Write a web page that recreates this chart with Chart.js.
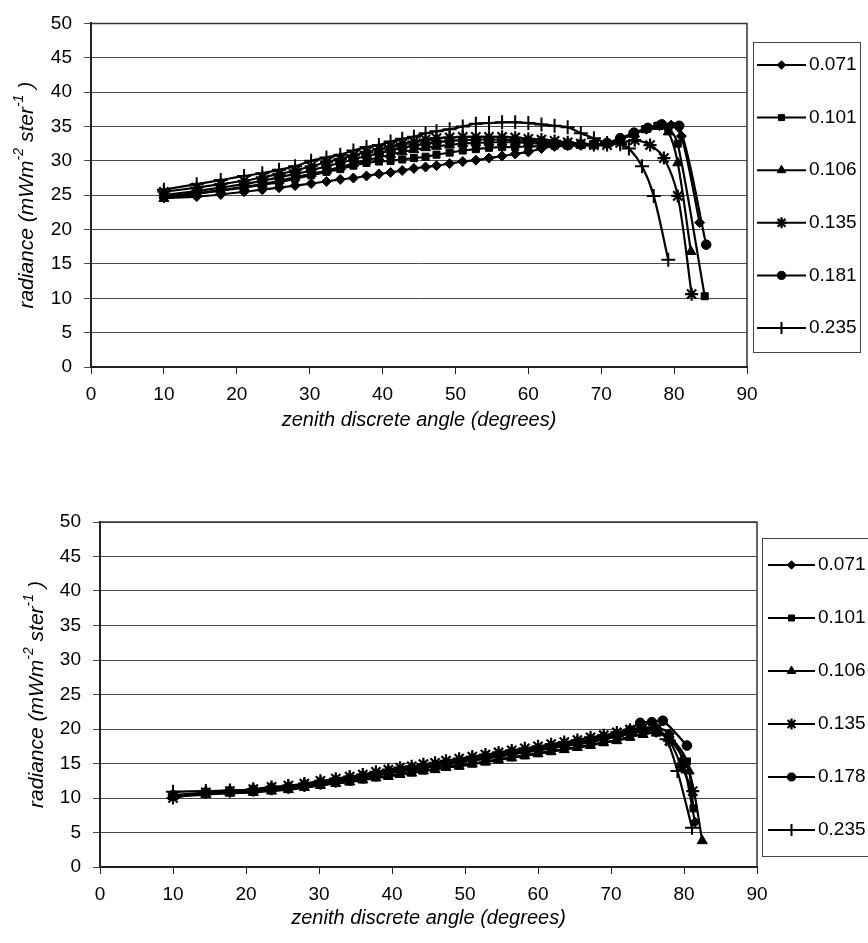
<!DOCTYPE html>
<html>
<head>
<meta charset="utf-8">
<script src="https://cdn.jsdelivr.net/npm/chart.js@4.4.1/dist/chart.umd.min.js"></script>
<style>
  body { margin: 0; background: #fff; }
  canvas { position: absolute; left: 0; }
  #chart-top { top: 0; }
  #chart-bottom { top: 470px; }
</style>
</head>
<body>
<canvas id="chart-top" width="868" height="470"></canvas>
<canvas id="chart-bottom" width="868" height="473"></canvas>
<script>
// --- DATA ---
const xTickValues = [0, 10, 20, 30, 40, 50, 60, 70, 80, 90];
const yTickValues = [0, 5, 10, 15, 20, 25, 30, 35, 40, 45, 50];

const topLabels = ['0.071', '0.101', '0.106', '0.135', '0.181', '0.235'];
const bottomLabels = ['0.071', '0.101', '0.106', '0.135', '0.178', '0.235'];

// discrete zenith angles shared by every series up to ~71 deg
const angleBase = [10, 14.5, 17.8, 21, 23.5, 25.8, 28, 30.2, 32.3, 34.2, 36, 37.8, 39.5, 41.1, 42.7, 44.3,
  45.9, 47.4, 49.2, 51, 52.8, 54.6, 56.4, 58.2, 60, 61.8, 63.6, 65.4, 67.2, 69, 70.8];

// top chart: angles past the shared part
const topTail071 = [72.6, 74.4, 76.2, 78, 79.6, 81, 83.5];
const topTail101 = [72.6, 74.3, 76, 77.7, 79.2, 80.5, 84.2];
const topTail106 = [72.6, 74.4, 76.1, 77.8, 79.2, 80.5, 82.3];
const topTail135 = [72.6, 74.6, 76.7, 78.6, 80.5, 82.4];
const topTail181 = [72.6, 74.5, 76.4, 78.3, 80.7, 84.4];
const topTail235 = [72.6, 73.8, 75.6, 77.2, 79.2];

// top chart radiance
const top071 = [24.6, 24.8, 25.1, 25.5, 25.8, 26.1, 26.4, 26.7, 27.0, 27.3, 27.5, 27.8, 28.1, 28.3, 28.6, 28.9,
  29.1, 29.3, 29.6, 29.9, 30.1, 30.4, 30.7, 31.0, 31.3, 31.8, 32.1, 32.2, 32.3, 32.3, 32.5,
  33.1, 33.9, 34.6, 35.1, 35.2, 33.6, 21.0];
const top101 = [24.8, 25.3, 25.7, 26.1, 26.5, 26.9, 27.4, 27.9, 28.4, 28.8, 29.3, 29.7, 29.9, 30.0, 30.2, 30.4,
  30.6, 30.9, 31.2, 31.5, 31.7, 31.9, 32.0, 32.0, 32.1, 32.1, 32.2, 32.2, 32.3, 32.3, 32.5,
  33.1, 33.9, 34.6, 35.1, 34.8, 32.5, 10.3];
const top106 = [24.5, 25.2, 25.7, 26.2, 26.6, 27.1, 27.6, 28.1, 28.6, 29.1, 29.6, 30.1, 30.5, 30.9, 31.3, 31.6,
  31.9, 32.1, 32.3, 32.5, 32.6, 32.7, 32.7, 32.7, 32.6, 32.5, 32.4, 32.3, 32.3, 32.3, 32.5,
  33.1, 33.9, 34.6, 35.0, 34.2, 29.7, 16.8];
const top135 = [25.5, 26.1, 26.6, 27.1, 27.6, 28.1, 28.6, 29.2, 29.8, 30.3, 30.8, 31.3, 31.7, 32.1, 32.5, 32.8,
  33.1, 33.3, 33.4, 33.5, 33.5, 33.5, 33.5, 33.4, 33.2, 33.1, 32.9, 32.7, 32.5, 32.3, 32.3,
  32.6, 33.0, 32.3, 30.4, 24.9, 10.6];
const top181 = [25.0, 25.6, 26.1, 26.6, 27.1, 27.6, 28.1, 28.6, 29.2, 29.7, 30.2, 30.7, 31.1, 31.5, 31.9, 32.2,
  32.5, 32.7, 32.9, 33.0, 33.1, 33.1, 33.1, 33.0, 32.9, 32.8, 32.6, 32.5, 32.4, 32.4, 32.6,
  33.3, 34.1, 34.8, 35.3, 35.1, 17.8];
const top235 = [25.8, 26.6, 27.2, 27.8, 28.2, 28.7, 29.2, 30.0, 30.5, 30.9, 31.5, 32.0, 32.3, 32.8, 33.2, 33.5,
  34.0, 34.3, 34.6, 35.0, 35.4, 35.5, 35.6, 35.6, 35.5, 35.3, 35.1, 34.9, 34.0, 33.3, 32.6,
  32.4, 31.8, 29.2, 24.9, 15.6];

// bottom chart: angles past the shared part
const botTail071 = [72.6, 74.4, 76.2, 78, 79.8, 81.5];
const botTail101 = [72.6, 74.4, 76.2, 78, 80.4, 81.3];
const botTail106 = [72.6, 74.4, 76.2, 78, 80.7, 82.5];
const botTail135 = [72.6, 74.4, 76.2, 78, 79.7, 81.2];
const botTail178 = [72.6, 74, 75.6, 77.1, 80.4];
const botTail235 = [72.6, 74.4, 76.2, 77.6, 79.1, 81.1];

// bottom chart radiance
const bot071 = [10.3, 10.7, 10.9, 11.1, 11.3, 11.5, 11.8, 12.1, 12.4, 12.7, 13.0, 13.3, 13.6, 13.9, 14.1, 14.3,
  14.6, 14.8, 15.1, 15.4, 15.7, 16.0, 16.3, 16.6, 16.9, 17.2, 17.5, 17.8, 18.1, 18.5, 18.9,
  19.4, 19.9, 20.2, 19.3, 15.5, 6.5];
const bot101 = [10.4, 10.6, 10.8, 10.9, 11.1, 11.3, 11.6, 11.9, 12.2, 12.4, 12.7, 13.0, 13.2, 13.5, 13.7, 14.0,
  14.2, 14.5, 14.7, 15.0, 15.3, 15.6, 15.9, 16.2, 16.5, 16.8, 17.1, 17.4, 17.7, 18.1, 18.4,
  18.9, 19.3, 19.5, 18.9, 15.3, 8.5];
const bot106 = [10.2, 10.5, 10.7, 10.8, 11.0, 11.2, 11.5, 11.8, 12.1, 12.3, 12.6, 12.9, 13.1, 13.4, 13.6, 13.9,
  14.1, 14.4, 14.6, 14.9, 15.2, 15.5, 15.8, 16.1, 16.4, 16.7, 17.0, 17.3, 17.6, 18.0, 18.3,
  18.8, 19.2, 19.4, 18.6, 13.9, 3.8];
const bot135 = [10.0, 10.8, 11.0, 11.3, 11.6, 11.8, 12.1, 12.5, 12.8, 13.1, 13.4, 13.8, 14.1, 14.4, 14.6, 14.9,
  15.1, 15.4, 15.7, 16.0, 16.3, 16.6, 16.9, 17.2, 17.5, 17.8, 18.1, 18.4, 18.8, 19.1, 19.5,
  19.9, 20.2, 20.0, 18.3, 14.5, 11.0];
const bot178 = [10.4, 10.8, 11.0, 11.2, 11.4, 11.6, 11.9, 12.2, 12.5, 12.8, 13.1, 13.4, 13.7, 14.0, 14.2, 14.5,
  14.7, 15.0, 15.3, 15.6, 15.9, 16.2, 16.5, 16.8, 17.1, 17.4, 17.7, 18.1, 18.4, 18.8, 19.2,
  19.8, 20.9, 21.0, 21.2, 17.6];
const bot235 = [10.9, 11.0, 11.1, 11.2, 11.4, 11.6, 11.9, 12.2, 12.5, 12.8, 13.1, 13.4, 13.7, 14.0, 14.2, 14.5,
  14.7, 15.0, 15.3, 15.6, 15.9, 16.2, 16.5, 16.8, 17.1, 17.4, 17.7, 18.0, 18.3, 18.7, 19.0,
  19.3, 19.7, 19.8, 18.5, 13.9, 5.7];

// --- STYLE ---
const FONT = '"Liberation Sans", Arial, Helvetica, sans-serif';
const markers = ['rectRot', 'rect', 'triangle', 'star', 'circle', 'cross'];
const markerSizes = [5, 5, 5.8, 6.5, 4.8, 7];
const markerBorders = [1, 1, 1, 2.2, 1, 2];

// frame round the plot area (top and right edges)
const plotFrame = {
  id: 'plotFrame',
  afterDraw(chart) {
    const { ctx, chartArea: a } = chart;
    ctx.save();
    ctx.strokeStyle = '#333';
    ctx.lineWidth = 1.5;
    ctx.beginPath();
    ctx.moveTo(a.left, a.top);
    ctx.lineTo(a.right, a.top);
    ctx.lineTo(a.right, a.bottom);
    ctx.stroke();
    ctx.restore();
  }
};

// boxed legend with a line + marker per series
const legendBox = {
  id: 'legendBox',
  afterDraw(chart, args, o) {
    const ctx = chart.ctx;
    ctx.save();
    ctx.strokeStyle = '#444';
    ctx.lineWidth = 1;
    ctx.strokeRect(o.x + 0.5, o.y + 0.5, o.w, o.h);
    chart.data.datasets.forEach((ds, i) => {
      const cy = o.y + o.first + i * o.gap;
      ctx.strokeStyle = '#000';
      ctx.fillStyle = '#000';
      ctx.lineWidth = 2;
      ctx.beginPath();
      ctx.moveTo(o.lineX1, cy);
      ctx.lineTo(o.lineX2, cy);
      ctx.stroke();
      ctx.lineWidth = ds.pointBorderWidth;
      Chart.helpers.drawPoint(ctx, {
        pointStyle: ds.pointStyle, rotation: 0,
        radius: ds.pointRadius * 0.85, borderWidth: ds.pointBorderWidth
      }, (o.lineX1 + o.lineX2) / 2, cy);
      ctx.font = '19px ' + FONT;
      ctx.textBaseline = 'middle';
      ctx.textAlign = 'left';
      ctx.fillText(ds.label, o.textX, cy);
    });
    ctx.restore();
  }
};

// rotated y title with real superscripts
const yTitle = {
  id: 'yTitle',
  afterDraw(chart, args, o) {
    const { ctx, chartArea: a } = chart;
    const parts = [['radiance (mWm', 0], ['-2', 1], [' ster', 0], ['-1', 1], [' )', 0]];
    const big = 'italic 21px ' + FONT;
    const small = 'italic 14px ' + FONT;
    ctx.save();
    let total = 0;
    parts.forEach(p => { ctx.font = p[1] ? small : big; total += ctx.measureText(p[0]).width; });
    ctx.translate(o.x, (a.top + a.bottom) / 2);
    ctx.rotate(-Math.PI / 2);
    ctx.fillStyle = '#000';
    ctx.textBaseline = 'middle';
    let px = -total / 2;
    parts.forEach(p => {
      ctx.font = p[1] ? small : big;
      ctx.fillText(p[0], px, p[1] ? -8 : 0);
      px += ctx.measureText(p[0]).width;
    });
    ctx.restore();
  }
};

function makeSeries(label, angles, values, i) {
  return {
    label: label,
    data: angles.map((a, k) => ({ x: a, y: values[k] })),
    borderColor: '#000',
    backgroundColor: '#000',
    borderWidth: 2.2,
    tension: 0.3,
    pointStyle: markers[i],
    pointRadius: markerSizes[i],
    pointBorderWidth: markerBorders[i],
    pointBackgroundColor: '#000',
    pointBorderColor: '#000'
  };
}

function buildChart(id, datasets, lay) {
  return new Chart(document.getElementById(id), {
    type: 'line',
    data: { datasets: datasets },
    options: {
      responsive: false,
      animation: false,
      devicePixelRatio: 1,
      layout: { padding: lay.padding },
      plugins: {
        legend: { display: false },
        tooltip: { enabled: false },
        legendBox: lay.legend,
        yTitle: { x: lay.titleX }
      },
      scales: {
        x: {
          type: 'linear', min: 0, max: 90,
          afterBuildTicks: s => { s.ticks = xTickValues.map(v => ({ value: v })); },
          afterFit: s => { s.height = lay.xHeight; },
          grid: { drawOnChartArea: false, drawTicks: true, tickLength: 7, color: '#222' },
          border: { color: '#222', width: 2 },
          ticks: { color: '#000', font: { family: FONT, size: 19 }, padding: 9, maxRotation: 0 },
          title: {
            display: true, text: 'zenith discrete angle (degrees)', color: '#000', padding: 0,
            font: { family: FONT, size: 20, style: 'italic' }
          }
        },
        y: {
          type: 'linear', min: 0, max: 50,
          afterBuildTicks: s => { s.ticks = yTickValues.map(v => ({ value: v })); },
          afterFit: s => { s.width = lay.yWidth; },
          grid: { color: '#4a4a4a', lineWidth: 1, tickLength: 7 },
          border: { color: '#222', width: 2 },
          ticks: { color: '#000', font: { family: FONT, size: 19 }, padding: 12 }
        }
      }
    },
    plugins: [plotFrame, legendBox, yTitle]
  });
}

document.addEventListener('DOMContentLoaded', () => {
  const topSets = [
    makeSeries(topLabels[0], angleBase.concat(topTail071), top071, 0),
    makeSeries(topLabels[1], angleBase.concat(topTail101), top101, 1),
    makeSeries(topLabels[2], angleBase.concat(topTail106), top106, 2),
    makeSeries(topLabels[3], angleBase.concat(topTail135), top135, 3),
    makeSeries(topLabels[4], angleBase.concat(topTail181), top181, 4),
    makeSeries(topLabels[5], angleBase.concat(topTail235), top235, 5)
  ];
  const bottomSets = [
    makeSeries(bottomLabels[0], angleBase.concat(botTail071), bot071, 0),
    makeSeries(bottomLabels[1], angleBase.concat(botTail101), bot101, 1),
    makeSeries(bottomLabels[2], angleBase.concat(botTail106), bot106, 2),
    makeSeries(bottomLabels[3], angleBase.concat(botTail135), bot135, 3),
    makeSeries(bottomLabels[4], angleBase.concat(botTail178), bot178, 4),
    makeSeries(bottomLabels[5], angleBase.concat(botTail235), bot235, 5)
  ];

  buildChart('chart-top', topSets, {
    padding: { left: 0, right: 121, top: 18, bottom: 38 },
    yWidth: 91, xHeight: 65, titleX: 27,
    legend: { x: 753, y: 42, w: 107, h: 310, first: 23, gap: 52.6, lineX1: 757, lineX2: 806, textX: 809 }
  });

  buildChart('chart-bottom', bottomSets, {
    padding: { left: 0, right: 111, top: 52, bottom: 13 },
    yWidth: 100, xHeight: 63, titleX: 37,
    legend: { x: 762, y: 68, w: 120, h: 318, first: 27, gap: 53, lineX1: 768, lineX2: 815, textX: 818 }
  });
});
</script>
</body>
</html>
